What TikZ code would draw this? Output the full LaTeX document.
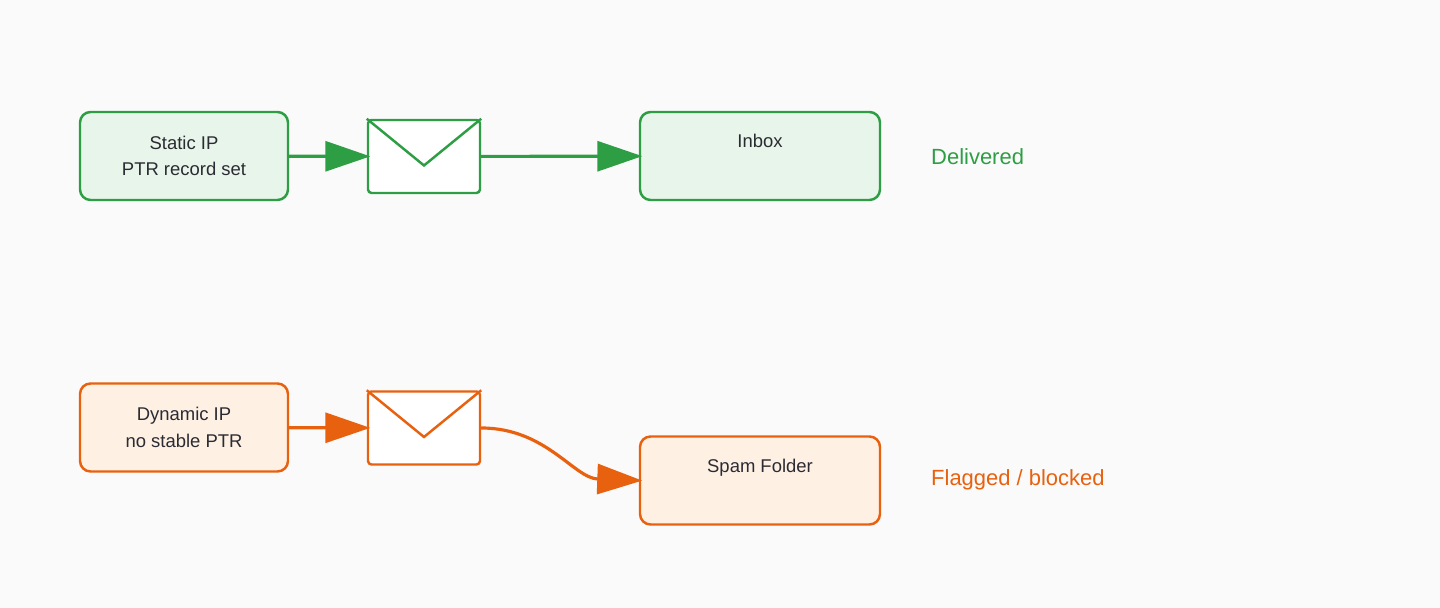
\documentclass[tikz,border=0pt]{standalone}
\usepackage{fontspec}
\setmainfont{Liberation Sans}
\usetikzlibrary{arrows.meta,calc}
\definecolor{okgreen}{HTML}{2E9E44}
\definecolor{okfill}{HTML}{E8F5EA}
\definecolor{badorange}{HTML}{E8610F}
\definecolor{badfill}{HTML}{FEF1E4}
\definecolor{textdark}{HTML}{2B2B33}
\tikzset{
  host/.style = {draw, rectangle, rounded corners=6pt, line width=1.4pt, minimum width=4.16cm, minimum height=1.76cm, text centered, align=center, font=\fontsize{10.5pt}{15pt}\selectfont, text=textdark},
  folder/.style = {host, minimum width=4.8cm, text depth=0.6cm},
  envelope/.style = {draw, rectangle, rounded corners=2pt, line width=1.4pt, fill=white, minimum width=2.24cm, minimum height=1.46cm},
  line/.style = {line width=1.8pt, shorten >=-2pt, -{Triangle[length=0.9cm,width=0.6cm]}},
  verdict/.style = {anchor=west, font=\fontsize{12.5pt}{14pt}\selectfont}
}
\begin{document}
\begin{tikzpicture}
    \useasboundingbox[fill={rgb,255:red,250;green,250;blue,250}] (0,0) rectangle (28.8,12.16);

    % Place nodes
    \node [host, draw=okgreen, fill=okfill] (static-ip) at (3.68,9.04) {Static IP\\PTR record set};
    \node [envelope, draw=okgreen] (mail-ok) at (8.48,9.03) {};
    \node [folder, draw=okgreen, fill=okfill] (inbox) at (15.2,9.04) {Inbox};
    \node [verdict, text=okgreen] (delivered) at (18.5,9.02) {Delivered};

    \node [host, draw=badorange, fill=badfill] (dynamic-ip) at (3.68,3.61) {Dynamic IP\\no stable PTR};
    \node [envelope, draw=badorange] (mail-bad) at (8.48,3.6) {};
    \node [folder, draw=badorange, fill=badfill] (spam) at (15.2,2.55) {Spam Folder};
    \node [verdict, text=badorange] (blocked) at (18.5,2.56) {Flagged / blocked};

    % Envelope flaps
    \draw [okgreen, line width=1.4pt] (mail-ok.north west) -- ($(mail-ok.center)+(0,-0.18)$) -- (mail-ok.north east);
    \draw [badorange, line width=1.4pt] (mail-bad.north west) -- ($(mail-bad.center)+(0,-0.18)$) -- (mail-bad.north east);

    % Draw edges
    \draw [line, okgreen] (static-ip) -- (mail-ok);
    \draw [line, okgreen] (mail-ok) -- (inbox);
    \draw [line, badorange] (dynamic-ip) -- (mail-bad);
    \draw [line, badorange] (mail-bad.east) to[out=0, in=178] (spam.west);
\end{tikzpicture}
\end{document}
